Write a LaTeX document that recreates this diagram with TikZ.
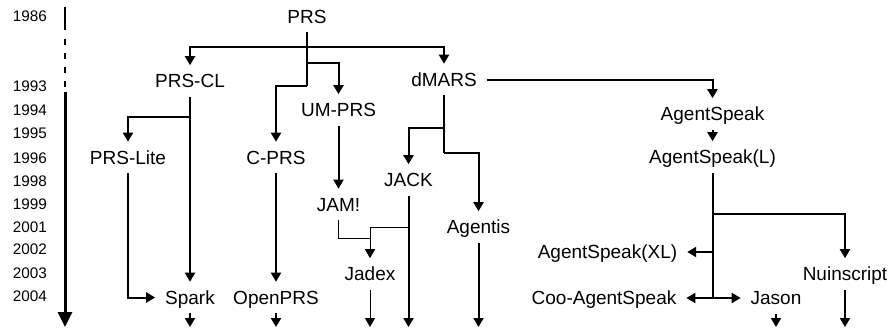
\documentclass[tikz,border=0pt]{standalone}
\usepackage{fontspec}
\setmainfont{Liberation Sans}
\usetikzlibrary{arrows.meta}
\definecolor{ink}{HTML}{000000}
\tikzset{
  system/.style={
    text=ink,
    font=\fontsize{19}{22}\selectfont,
    text height=13.6pt,
    text depth=0pt,
    inner xsep=10pt,
    inner ysep=9pt,
    outer sep=0pt
  },
  year/.style={
    text=ink,
    font=\fontsize{15.3}{18}\selectfont,
    text height=11pt,
    text depth=0pt,
    inner sep=0pt,
    anchor=east
  },
  plain/.style={
    draw=ink,
    line width=2pt
  },
  link/.style={
    plain,
    -{Triangle[width=10pt,length=9pt]}
  },
  thinline/.style={
    draw=ink,
    line width=1pt
  },
  thinlink/.style={
    thinline,
    -{Triangle[width=10pt,length=9pt]}
  },
  axisline/.style={
    draw=ink,
    line width=2pt
  },
  axisdash/.style={
    axisline,
    dash pattern=on 6pt off 8pt
  },
  axisarrow/.style={
    draw=ink,
    line width=3pt,
    -{Triangle[width=14pt,length=15pt]}
  }
}
\newcommand{\yearlabel}[2]{%
  \node[year] (y#1) at (47,#2) {#1};
}
\newcommand{\continues}[2][link]{%
  \coordinate (#2 end) at (#2.south |- axis end);
  \draw[#1] (#2.south) -- (#2 end);
}

\begin{document}
\begin{tikzpicture}[x=1pt,y=-1pt]
  \useasboundingbox (0,0) rectangle (890,329);

  % --- Time axis ---
  \yearlabel{1986}{16}
  \yearlabel{1993}{86}
  \yearlabel{1994}{109.5}
  \yearlabel{1995}{132.5}
  \yearlabel{1996}{158}
  \yearlabel{1998}{180.5}
  \yearlabel{1999}{203.5}
  \yearlabel{2001}{226.5}
  \yearlabel{2002}{249}
  \yearlabel{2003}{272.5}
  \yearlabel{2004}{296}

  \coordinate (axis top) at (65,7);
  \coordinate (axis break) at (65,30);
  \coordinate (axis dashes) at (65,39);
  \coordinate (axis solid) at (65,92);
  \coordinate (axis end) at (65,327);
  \draw[axisline] (axis top) -- (axis break);
  \draw[axisdash] (axis dashes) -- (axis solid);
  \draw[axisarrow] (axis solid) -- (axis end);

  % --- Systems ---
  \node[system] (prs) at (307,16.5) {PRS};
  \node[system] (prscl) at (190,81) {PRS-CL};
  \node[system] (dmars) at (444,79.5) {dMARS};
  \node[system] (umprs) at (338.5,110) {UM-PRS};
  \node[system] (agentspeak) at (712.5,114) {AgentSpeak};
  \node[system] (prslite) at (128,157.5) {PRS-Lite};
  \node[system] (cprs) at (276,157.5) {C-PRS};
  \node[system] (agentspeakl) at (712.5,157) {AgentSpeak(L)};
  \node[system] (jack) at (408.5,180) {JACK};
  \node[system] (jam) at (338.5,204.5) {JAM!};
  \node[system] (agentis) at (478.5,227) {Agentis};
  \node[system] (agentspeakxl) at (607.5,252) {AgentSpeak(XL)};
  \node[system] (jadex) at (370,274) {Jadex};
  \node[system] (nuinscript) at (845,274) {Nuinscript};
  \node[system] (spark) at (190,297.5) {Spark};
  \node[system] (openprs) at (276,297.5) {OpenPRS};
  \node[system] (cooagentspeak) at (604,298) {Coo-AgentSpeak};
  \node[system] (jason) at (776,298) {Jason};

  % --- PRS family ---
  \coordinate (prs split) at (307,47);
  \coordinate (prs branch) at (307,63);
  \coordinate (prs fork) at (307,86);
  \draw[plain] (prs.south) -- (prs fork);
  \draw[link] (prs split) -| (prscl.north);
  \draw[link] (prs split) -| (dmars.north);
  \draw[link] (prs branch) -| (umprs.north);
  \draw[link] (prs fork) -| (cprs.north);

  \coordinate (prscl branch) at (190,117);
  \draw[link] (prscl.south) -- (spark.north);
  \draw[link] (prscl branch) -| (prslite.north);
  \draw[link] (prslite.south) |- (spark.west);
  \draw[link] (cprs.south) -- (openprs.north);

  % --- UM-PRS, JAM! and JACK ---
  \draw[link] (umprs.south) -- (jam.north);
  \coordinate (jadex fork) at (370,238);
  \coordinate (jack branch) at (408.5,227);
  \draw[thinlink] (jam.south) |- (jadex fork) -- (jadex.north);
  \draw[thinline] (jack branch) -| (jadex fork);

  % --- dMARS family ---
  \coordinate (dmars fork) at (444,128);
  \coordinate (dmars bend) at (444,153);
  \draw[plain] (dmars.south) -- (dmars bend);
  \draw[link] (dmars fork) -| (jack.north);
  \draw[link] (dmars bend) -| (agentis.north);
  \draw[link] (dmars.east) -| (agentspeak.north);

  % --- AgentSpeak family ---
  \coordinate (asl fork) at (712.5,214);
  \draw[link] (agentspeak.south) -- (agentspeakl.north);
  \draw[plain] (agentspeakl.south) -- (agentspeakl.south |- jason.west);
  \draw[link] (asl fork) -| (nuinscript.north);
  \draw[link] (agentspeakl.south |- agentspeakxl.east) -- (agentspeakxl.east);
  \draw[link] (agentspeakl.south |- cooagentspeak.east) -- (cooagentspeak.east);
  \draw[link] (agentspeakl.south |- jason.west) -- (jason.west);

  % --- Still going ---
  \continues{spark}
  \continues{openprs}
  \continues[thinlink]{jadex}
  \continues{jack}
  \continues{agentis}
  \continues{jason}
  \continues{nuinscript}

\end{tikzpicture}
\end{document}
